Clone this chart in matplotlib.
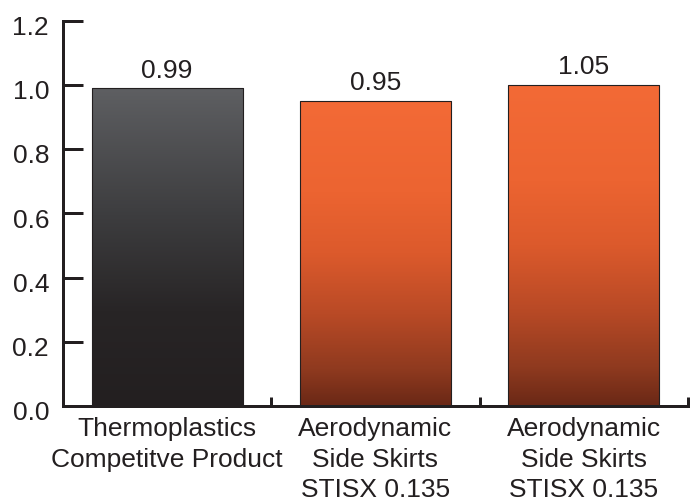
import matplotlib
matplotlib.use("Agg")
import matplotlib.pyplot as plt
import matplotlib.transforms as mtransforms
import numpy as np
from matplotlib.colors import LinearSegmentedColormap

categories = ["Thermoplastics\nCompetitve Product",
              "Aerodynamic\nSide Skirts\nSTISX 0.135",
              "Aerodynamic\nSide Skirts\nSTISX 0.135"]
bar_heights = [0.99, 0.95, 1.00]
value_labels = ["0.99", "0.95", "1.05"]
y_ticks = [0.0, 0.2, 0.4, 0.6, 0.8, 1.0, 1.2]

ink = "#231f20"
plt.rcParams['font.family'] = ['Liberation Sans', 'DejaVu Sans']
FS = 19

gray_cmap = LinearSegmentedColormap.from_list(
    "g", [(0.0, "#231f20"), (0.3, "#282526"), (0.6, "#3d3d3f"), (1.0, "#5e5f62")])
orange_cmap = LinearSegmentedColormap.from_list(
    "o", [(0.0, "#6a2816"), (0.12, "#8f3a1f"), (0.3, "#b94a26"),
          (0.5, "#dc5a2c"), (0.7, "#ec6431"), (1.0, "#f36a36")])
cmaps = [gray_cmap, orange_cmap, orange_cmap]

fig = plt.figure(figsize=(6.92, 5.04), dpi=100)
ax = fig.add_axes([0.091, 0.1944, 0.903, 0.7646])

x = np.arange(len(categories))
width = 0.725
bars = ax.bar(x, bar_heights, width=width, facecolor="none",
              edgecolor=ink, linewidth=0.8, zorder=3)

grad = np.linspace(0, 1, 256).reshape(-1, 1)
for b, cm in zip(bars, cmaps):
    x0, y0 = b.get_x(), b.get_y()
    w, h = b.get_width(), b.get_height()
    im = ax.imshow(grad, cmap=cm, origin="lower", aspect="auto",
                   extent=[x0, x0 + w, y0, y0 + h], zorder=2)
    im.set_clip_path(b)

for xi, h, lab in zip(x, bar_heights, value_labels):
    ax.annotate(lab, (xi, h), xytext=(0, 4), textcoords="offset points",
                ha="center", va="bottom", fontsize=FS, color=ink)

ax.set_xlim(-0.5, 2.5)
ax.set_ylim(0, 1.2)
ax.set_yticks(y_ticks)
ax.set_yticklabels([f"{v:.1f}" for v in y_ticks])
ax.set_xticks(x)
ax.set_xticklabels(categories, linespacing=1.34)
ax.set_xticks([0.5, 1.5, 2.5], minor=True)

ax.tick_params(axis="y", direction="in", length=14.4, width=2.16,
               color=ink, labelsize=FS, labelcolor=ink, pad=10)
ax.tick_params(axis="x", which="major", length=0, labelsize=FS,
               labelcolor=ink, pad=8)
ax.tick_params(axis="x", which="minor", direction="in", length=6.5,
               width=2.16, color=ink)

shift = mtransforms.ScaledTranslation(0, -3.5 / 72, fig.dpi_scale_trans)
for lbl in ax.get_yticklabels():
    lbl.set_transform(lbl.get_transform() + shift)

for s in ["top", "right"]:
    ax.spines[s].set_visible(False)
for s in ["left", "bottom"]:
    ax.spines[s].set_linewidth(2.16)
    ax.spines[s].set_color(ink)

fig.savefig("out.png", dpi=100)
